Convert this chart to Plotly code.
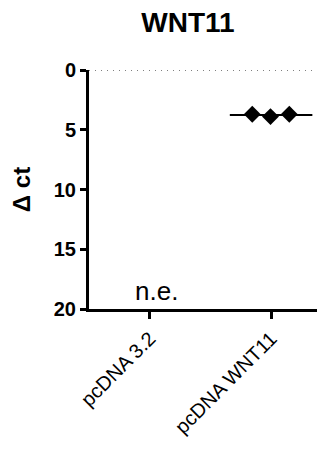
import plotly.graph_objects as go

categories = ["pcDNA 3.2", "pcDNA WNT11"]
wnt11_values = [3.7, 3.9, 3.7]
y_ticks = [0, 5, 10, 15, 20]

# style constants (horizontal scatter offsets, not data)
JITTER = [-0.155, -0.005, 0.15]
MEAN_HALF = 0.34
BODY = 8  # default page margin offset of the browser

cat_idx = 1
xs = [cat_idx + j for j in JITTER]
mean_val = sum(wnt11_values) / len(wnt11_values)

fig = go.Figure()
fig.add_trace(go.Scatter(
    x=[cat_idx - MEAN_HALF, cat_idx + MEAN_HALF], y=[mean_val, mean_val],
    mode="lines", line=dict(color="black", width=2), showlegend=False, hoverinfo="skip"))
fig.add_trace(go.Scatter(
    x=xs, y=wnt11_values, mode="markers",
    marker=dict(symbol="diamond", size=13, color="black"), showlegend=False))

fig.add_shape(type="line", xref="paper", yref="y", x0=0, x1=1, y0=0, y1=0,
              line=dict(color="#555555", width=1.3, dash="1px,5px"), layer="below")

fig.add_annotation(x=0.06, y=19.9, xref="x", yref="y", text="n.e.", showarrow=False,
                   yanchor="bottom", font=dict(family="Arial", size=26, color="black"))

fig.update_layout(
    width=325, height=450,
    margin=dict(l=89 - BODY, r=0, t=70 - BODY, b=141 + BODY, autoexpand=False),
    plot_bgcolor="white", paper_bgcolor="white",
    title=dict(text="<b>WNT11</b>", x=(188 - BODY) / 325, xanchor="center",
               y=1 - (22 - BODY) / 450, yanchor="middle",
               font=dict(family="Arial", size=28, color="black")),
    xaxis=dict(range=[-0.5, 1.51], tickvals=[0, 1], ticktext=categories, tickangle=-45,
               automargin=False,
               showgrid=False, zeroline=False, showline=True, linecolor="black", linewidth=3,
               ticks="outside", ticklen=7, tickwidth=3, tickcolor="black",
               tickfont=dict(family="Arial", size=20, color="black")),
    yaxis=dict(range=[20, 0], tickvals=y_ticks, ticktext=[f"<b>{t}</b>" for t in y_ticks],
               automargin=False,
               showgrid=False, zeroline=False,
               showline=True, linecolor="black", linewidth=3,
               ticks="outside", ticklen=6, tickwidth=3, tickcolor="black",
               tickfont=dict(family="Arial", size=20, color="black"),
               title=dict(text="<b>Δ ct</b>", font=dict(family="Arial", size=24, color="black"), standoff=17)),
)

fig.write_html("out.html")
